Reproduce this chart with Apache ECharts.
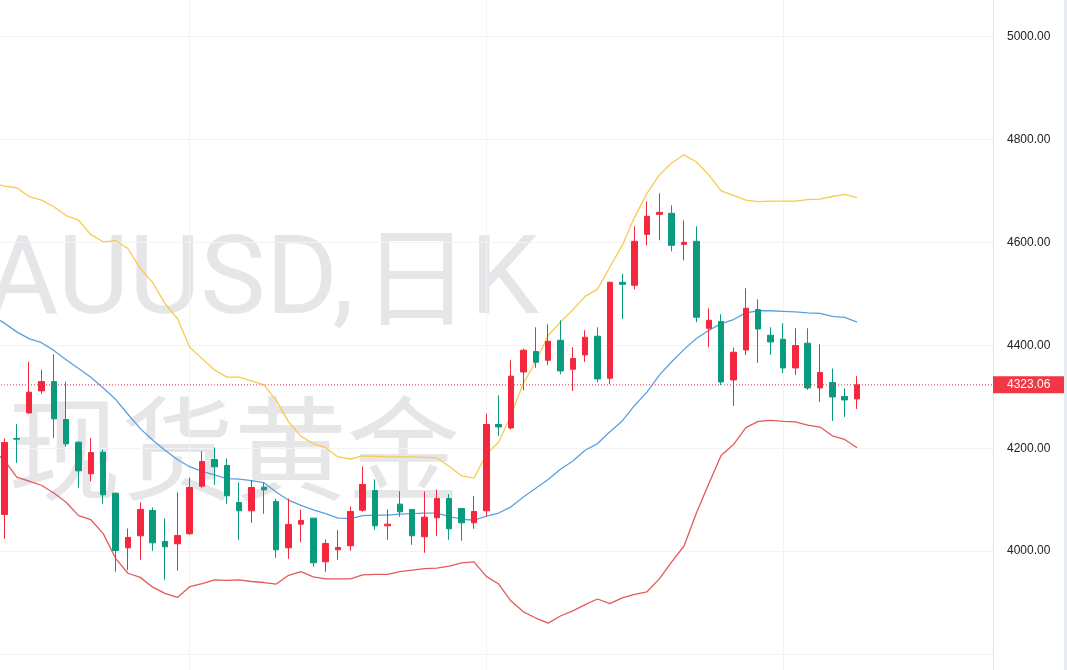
<!DOCTYPE html>
<html>
<head>
<meta charset="utf-8">
<style>
  html, body { margin: 0; padding: 0; background: #fff; }
  #chart0 { width: 1067px; height: 670px; }
</style>
<script src="https://cdn.jsdelivr.net/npm/echarts@6/dist/echarts.min.js"></script>
</head>
<body>
<div id="chart0"></div>
<script>
// candles, left to right (red = up, green = down)
var opens = [4071.2, 4218.8, 4268.6, 4311.3, 4329.4, 4255.7, 4211.7, 4150.2, 4192.2, 4112.6,
  4006.5, 4029.8, 4079, 4018.8, 4014.3, 4033.7, 4126.2, 4178, 4166.4, 4094.5,
  4078.3, 4124.3, 4096.5, 4006.5, 4052.4, 4064.1, 3979.3, 4002.6, 4010.4, 4079.6,
  4117.8, 4049.2, 4091.3, 4080.9, 4027.9, 4064.7, 4102.3, 4082.9, 4055, 4078.3,
  4246, 4239.4, 4348.1, 4387.8, 4370.9, 4409.7, 4353.4, 4381.2, 4417.5, 4335.9,
  4522.3, 4516.5, 4615.5, 4654.3, 4656.3, 4596.1, 4601.9, 4433, 4446, 4332.6,
  4390.9, 4469.3, 4419.4, 4411.6, 4355.9, 4403.9, 4317.1, 4327.6, 4300.4, 4295.7]
var closes = [4211, 4217.5, 4308.7, 4329.4, 4257, 4208.4, 4156, 4191.6, 4109.4, 4001.3,
  4026.6, 4081, 4016.2, 4008.4, 4030.4, 4123.6, 4174.1, 4163.8, 4107.5, 4078.3,
  4123.6, 4119.1, 4002.6, 4051.8, 4059.5, 3977.4, 4014.9, 4007.1, 4077, 4129.5,
  4049.2, 4052.4, 4076.4, 4029.8, 4066, 4102.3, 4043.4, 4055, 4077, 4246,
  4241.3, 4339.8, 4390.3, 4367, 4407.8, 4350.1, 4374.2, 4415.5, 4334.6, 4522.3,
  4518.4, 4601.9, 4650.5, 4658.2, 4594.2, 4600, 4454.4, 4448.5, 4328.7, 4386.4,
  4471.8, 4431.6, 4406.4, 4355.9, 4399.4, 4317.1, 4347, 4299.6, 4293.8, 4323.06]
var lows = [4024, 4171.5, 4267.3, 4305.5, 4220.1, 4202.6, 4123, 4135.9, 4091.9, 3959.9,
  3963.1, 3983.2, 4000.7, 3944.4, 3961.8, 4031.7, 4123, 4128.8, 4091.9, 4022,
  4055, 4072.5, 3987.1, 3985.1, 4017.5, 3969.6, 3959.9, 3983.2, 4000.7, 4076.4,
  4041.4, 4022, 4066.7, 4012.3, 3996.8, 4029.8, 4022, 4020.1, 4043.4, 4067.3,
  4223.9, 4236.3, 4312.6, 4355.9, 4361.2, 4343.7, 4311.2, 4367.6, 4328.1, 4324.3,
  4451.1, 4508.7, 4594.2, 4603.9, 4582.5, 4565, 4444.6, 4396.1, 4322.9, 4282.1,
  4381.2, 4365.6, 4381.2, 4346.2, 4342.3, 4313.2, 4289.9, 4253, 4260.8, 4276.3]
var highs = [4218.8, 4246.6, 4368.3, 4352.7, 4382.5, 4329.4, 4213, 4219.4, 4197.4, 4113.9,
  4044, 4094.5, 4084.8, 4063.4, 4113.9, 4143, 4194.2, 4201.3, 4179.9, 4133.3,
  4137.9, 4132.7, 4102.3, 4102.3, 4080.9, 4064.1, 4022.7, 4040.8, 4086.7, 4164.4,
  4139.2, 4080.9, 4116.5, 4080.9, 4115.9, 4119.7, 4110.7, 4082.9, 4106.8, 4267.3,
  4302.9, 4370.9, 4393.6, 4434.9, 4440.8, 4448.5, 4396.1, 4429.1, 4434.9, 4523.7,
  4539.2, 4631, 4679.6, 4695.1, 4671.8, 4642.7, 4631, 4471.8, 4460.2, 4395.5,
  4510.7, 4489.3, 4434.9, 4442.7, 4433, 4433, 4401.9, 4354.7, 4315.9, 4339.8]

// bands start one bar earlier than the candles (that bar sits just off the left edge)
var upperBand = [4716, 4709, 4706, 4689, 4682, 4669, 4652, 4643, 4615, 4601, 4603,
  4588, 4549, 4522, 4481, 4452, 4396, 4374, 4352, 4338, 4338,
  4331, 4323, 4293, 4251, 4223, 4209, 4201, 4183, 4179, 4185,
  4184, 4183, 4183, 4183, 4182, 4181, 4165, 4146, 4142, 4188,
  4212, 4264, 4326, 4368, 4419, 4445, 4469, 4495, 4509, 4552,
  4594, 4649, 4695, 4731, 4754, 4770, 4756, 4731, 4700, 4691,
  4682, 4679, 4680, 4680, 4680, 4683, 4684, 4689, 4693, 4687]
var midBand = [4458, 4443, 4426, 4413, 4405, 4390, 4372, 4355, 4338, 4317, 4295,
  4266, 4238, 4216, 4196, 4178, 4164, 4155, 4148, 4141, 4140,
  4137, 4133, 4115, 4099, 4089, 4080, 4073, 4064, 4063, 4069,
  4070, 4070, 4072, 4073, 4074, 4074, 4067, 4062, 4060, 4068,
  4074, 4086, 4105, 4122, 4139, 4159, 4175, 4196, 4209, 4232,
  4253, 4283, 4309, 4342, 4368, 4392, 4413, 4429, 4442, 4450,
  4463, 4467, 4467, 4466, 4465, 4463, 4462, 4456, 4454, 4445]
var lowerBand = [4196, 4177, 4144, 4136, 4128, 4113, 4095, 4069, 4061, 4034, 3986,
  3957, 3949, 3930, 3918, 3910, 3931, 3937, 3944, 3943, 3944,
  3941, 3939, 3936, 3953, 3960, 3950, 3946, 3946, 3946, 3954,
  3955, 3955, 3960, 3963, 3966, 3967, 3971, 3977, 3979, 3951,
  3936, 3903, 3882, 3870, 3860, 3874, 3884, 3896, 3907, 3898,
  3909, 3916, 3921, 3946, 3979, 4010, 4074, 4131, 4186, 4207,
  4240, 4252, 4254, 4252, 4251, 4245, 4241, 4224, 4217, 4201]

var lastPrice = 4323.06
var priceLabels = [4000, 4200, 4400, 4600, 4800, 5000]
var titleLines = ['{a|XAUUSD,}{b|日}{c|K}', '现货黄金']

var upColor = '#f5273f'
var downColor = '#0a9a7d'
var gridColor = '#f2f3f7'
var markColor = '#e6e6e9'

var categories = []
for (var c = 0; c < 82; c++) categories.push(String(c))

var candles = [['-', '-', '-', '-']]
opens.forEach(function (o, i) {
  candles.push([o, closes[i], lows[i], highs[i]])
})

function band (name, data, color) {
  return {
    name: name,
    type: 'line',
    data: data,
    showSymbol: false,
    smooth: false,
    z: 3,
    lineStyle: { color: color, width: 1.3 }
  }
}

// last price: a flat dotted line across the whole plot, tag drawn by its markLine
var priceSeries = {
  name: 'last',
  type: 'line',
  data: categories.map(function () { return lastPrice }),
  showSymbol: false,
  z: 5,
  lineStyle: { color: '#e8304a', type: [1, 2], width: 1 },
  markLine: {
    silent: true,
    symbol: 'none',
    animation: false,
    data: [{ yAxis: lastPrice }],
    lineStyle: { color: 'rgba(0,0,0,0)', width: 0 },
    label: {
      position: 'end',
      distance: 0,
      formatter: function () { return lastPrice.toFixed(2) },
      color: '#fff',
      fontFamily: 'Liberation Sans',
      fontSize: 12,
      backgroundColor: '#f23645',
      width: 57,
      height: 17,
      lineHeight: 17,
      padding: [0, 0, 0, 14],
      align: 'left'
    }
  }
}

var chart0 = echarts.init(document.getElementById('chart0'), null, { renderer: 'canvas' })
var option0 = {
  animation: false,
  backgroundColor: '#fff',
  grid: { left: -8, right: 74, top: -66.5, height: 823.5, outerBoundsMode: 'none' },
  xAxis: {
    type: 'category',
    data: categories,
    boundaryGap: false,
    axisLine: { show: false },
    axisTick: { show: false },
    axisLabel: { show: false },
    splitLine: {
      show: true,
      interval: function (i) { return i === 16 || i === 40 || i === 64 },
      lineStyle: { color: gridColor, width: 1 }
    }
  },
  yAxis: {
    type: 'value',
    position: 'right',
    min: 3600,
    max: 5200,
    interval: 200,
    axisLine: { show: true, lineStyle: { color: '#e0e3eb', width: 1 } },
    axisTick: { show: false },
    axisLabel: {
      margin: 14,
      color: '#222',
      fontFamily: 'Liberation Sans',
      fontSize: 12,
      formatter: function (v) { return priceLabels.indexOf(v) >= 0 ? v.toFixed(2) : '' }
    },
    splitLine: { show: true, lineStyle: { color: gridColor, width: 1 } }
  },
  graphic: [
    {
      type: 'text',
      z: -1,
      silent: true,
      style: {
        text: titleLines[0],
        x: 539,
        y: 212,
        textAlign: 'right',
        textVerticalAlign: 'top',
        fill: markColor,
        rich: {
          a: { font: '110px Roboto', fill: markColor, padding: [18, 0, 0, 0] },
          b: { font: '108px "Noto Sans CJK SC"', fill: markColor, padding: [0, 0, 0, 8] },
          c: { font: '110px Roboto', fill: markColor, padding: [18, 0, 0, 0] }
        }
      }
    },
    { type: 'text', z: -1, silent: true, style: { text: titleLines[1], x: 8, y: 392, textAlign: 'left', textVerticalAlign: 'top', fill: markColor, font: '113px "Noto Sans CJK SC"' } },
    { type: 'rect', z: 10, silent: true, shape: { x: 1064, y: 0, width: 3, height: 670 }, style: { fill: '#e8eaf2' } }
  ],
  series: [
    band('upper', upperBand, '#f7cb4d'),
    band('mid', midBand, '#5aa0e0'),
    band('lower', lowerBand, '#e25b5b'),
    {
      name: 'K',
      type: 'candlestick',
      data: candles,
      barWidth: 6,
      z: 4,
      itemStyle: {
        color: upColor,
        color0: downColor,
        borderColor: upColor,
        borderColor0: downColor,
        borderWidth: 1
      }
    },
    priceSeries
  ]
}
chart0.setOption(option0)
</script>
</body>
</html>
